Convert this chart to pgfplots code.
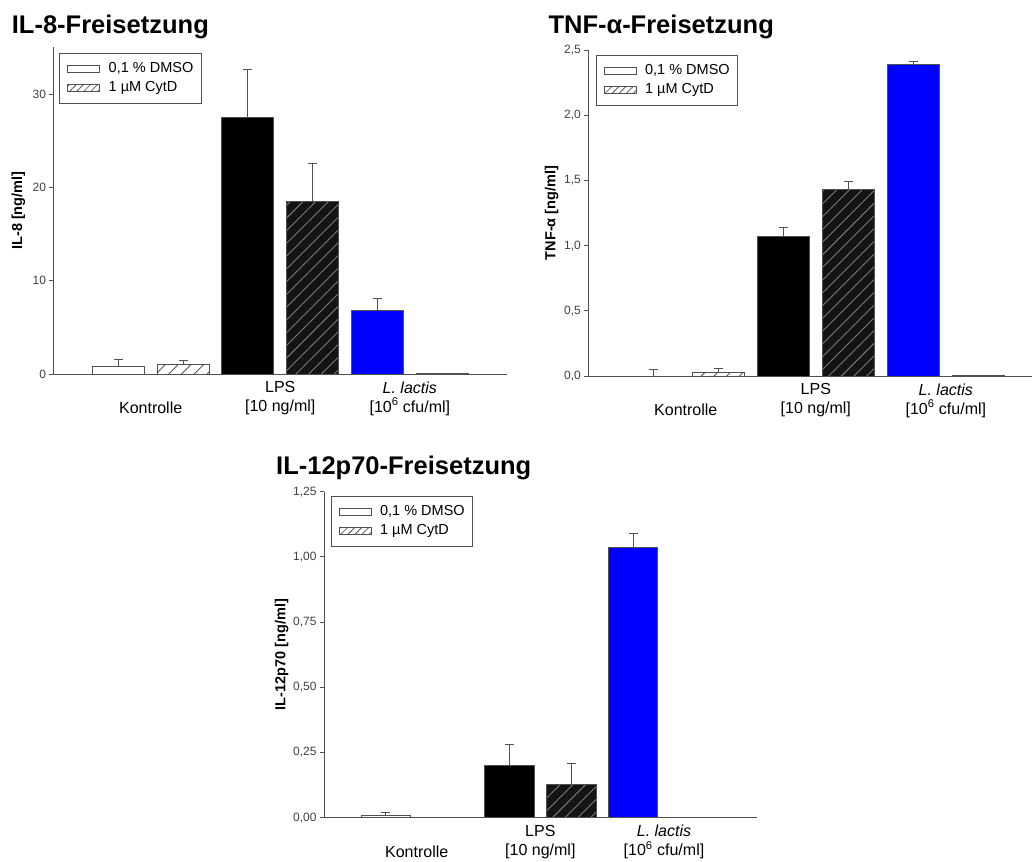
\documentclass[border=0pt]{standalone}
\usepackage{fontspec}
\setmainfont{Liberation Sans}
\usepackage{pgfplots}
\pgfplotsset{compat=1.18}
\usetikzlibrary{patterns.meta}

\definecolor{edge}{HTML}{505050}
\definecolor{hatch}{HTML}{7A7A7A}
\definecolor{barblue}{HTML}{0000FF}

\pgfplotsset{
  panel/.style={
    scale only axis, enlargelimits=false, ymin=0, xmin=-1,
    axis x line*=bottom, axis y line*=left,
    axis line style={edge, line width=0.9pt, -},
    tick align=outside, major tick length=4pt,
    ytick style={edge, line width=0.8pt},
    x tick style={draw=none},
    xtick={0.5,2.5,4.5},
    xticklabels={{\strut\\Kontrolle},{LPS\\{}[10 ng/ml]},{\textit{L. lactis}\\{}[10\textsuperscript{6} cfu/ml]}},
    xticklabel style={align=center, font=\fontsize{16}{19}\selectfont, text=black},
    yticklabel style={font=\fontsize{12}{14}\selectfont, text=black!75},
    /pgf/number format/assume math mode=true,
    /pgf/number format/use comma,
    ylabel style={anchor=center, font=\fontsize{14.5}{17}\selectfont\bfseries},
    legend cell align=left,
    legend style={anchor=north west, draw=edge, line width=0.8pt,
      font=\fontsize{14.5}{17}\selectfont, inner xsep=5pt, inner ysep=6pt,
      nodes={inner xsep=3pt, inner ysep=2pt, text height=11pt, text depth=4pt}},
    legend image code/.code={%
      \draw[##1] (0pt,-3.5pt) rectangle (32pt,3.5pt);
      \pgfpathmoveto{\pgfpoint{-3pt}{0pt}}\pgfpathlineto{\pgfpoint{38pt}{0pt}}\pgfusepath{}},
  },
  bar/.style={ybar, bar width=0.8, bar shift=0pt, draw=edge, line width=0.9pt, forget plot,
    error bars/y dir=plus, error bars/y explicit,
    error bars/error bar style={edge, line width=0.9pt},
    error bars/error mark options={rotate=90, edge, mark size=4.5pt, line width=0.9pt}},
  hatched/.style={postaction={pattern={Lines[angle=45,distance=9pt,line width=0.9pt]}, pattern color=hatch}},
  hatchedw/.style={pattern={Lines[angle=45,distance=9pt,line width=0.9pt]}, pattern color=black!65},
}

\begin{document}
\begin{tikzpicture}
\path[use as bounding box] (0pt,0pt) rectangle (1032pt,861pt);

% ---------------- IL-8 ----------------
\begin{axis}[panel, at={(53.5pt,487pt)}, anchor=south west,
  width=453.5pt, height=326.7pt, xmax=6, ymax=35,
  ytick={0,10,20,30},
  yticklabel style={/pgf/number format/fixed, /pgf/number format/precision=0},
  ylabel={IL-8 [ng/ml]},
  ylabel style={at={(axis description cs:-0.0776,0.5)}},
  legend style={at={(0.0128,0.9835)}}]
\addlegendimage{draw=edge, fill=white, line width=0.8pt}
\addlegendentry{0,1 \% DMSO}
\addlegendimage{draw=edge, line width=0.8pt, pattern={Lines[angle=45,distance=5pt,line width=0.8pt]}, pattern color=black!65}
\addlegendentry{1 µM CytD}
\addplot[bar, fill=white] coordinates {(0,0.86) +- (0,0.71)};
\addplot[bar, hatchedw] coordinates {(1,1.0) +- (0,0.4)};
\addplot[bar, fill=black] coordinates {(2,27.5) +- (0,5.1)};
\addplot[bar, fill=black!92, hatched] coordinates {(3,18.5) +- (0,4.1)};
\addplot[bar, fill=barblue] coordinates {(4,6.8) +- (0,1.3)};
\addplot[bar, fill=barblue, hatched] coordinates {(5,0.08) +- (0,0)};
\end{axis}

% ---------------- TNF-alpha ----------------
\begin{axis}[panel, at={(588.3pt,485pt)}, anchor=south west,
  width=443.7pt, height=326pt, xmax=5.826, ymax=2.5,
  ytick={0,0.5,1,1.5,2,2.5},
  yticklabel style={/pgf/number format/fixed, /pgf/number format/fixed zerofill, /pgf/number format/precision=1},
  ylabel={TNF-α [ng/ml]},
  ylabel style={at={(axis description cs:-0.0825,0.5)}},
  legend style={at={(0.0167,0.9847)}}]
\addlegendimage{draw=edge, fill=white, line width=0.8pt}
\addlegendentry{0,1 \% DMSO}
\addlegendimage{draw=edge, line width=0.8pt, pattern={Lines[angle=45,distance=5pt,line width=0.8pt]}, pattern color=black!65}
\addlegendentry{1 µM CytD}
\addplot[bar, fill=white] coordinates {(0,0) +- (0,0.051)};
\addplot[bar, hatchedw] coordinates {(1,0.025) +- (0,0.034)};
\addplot[bar, fill=black] coordinates {(2,1.068) +- (0,0.072)};
\addplot[bar, fill=black!92, hatched] coordinates {(3,1.43) +- (0,0.065)};
\addplot[bar, fill=barblue] coordinates {(4,2.39) +- (0,0.025)};
\addplot[bar, fill=barblue, hatched] coordinates {(5,0.003) +- (0,0)};
\end{axis}

% ---------------- IL-12p70 ----------------
\begin{axis}[panel, at={(324pt,43.3pt)}, anchor=south west,
  width=432.7pt, height=326pt, xmax=6, ymax=1.25,
  ytick={0,0.25,0.5,0.75,1,1.25},
  yticklabel style={/pgf/number format/fixed, /pgf/number format/fixed zerofill, /pgf/number format/precision=2},
  ylabel={IL-12p70 [ng/ml]},
  ylabel style={at={(axis description cs:-0.0978,0.5)}},
  legend style={at={(0.0155,0.9868)}}]
\addlegendimage{draw=edge, fill=white, line width=0.8pt}
\addlegendentry{0,1 \% DMSO}
\addlegendimage{draw=edge, line width=0.8pt, pattern={Lines[angle=45,distance=5pt,line width=0.8pt]}, pattern color=black!65}
\addlegendentry{1 µM CytD}
\addplot[bar, fill=white] coordinates {(0,0.008) +- (0,0.011)};
\addplot[bar, hatchedw] coordinates {(1,0) +- (0,0)};
\addplot[bar, fill=black] coordinates {(2,0.202) +- (0,0.079)};
\addplot[bar, fill=black!92, hatched] coordinates {(3,0.129) +- (0,0.079)};
\addplot[bar, fill=barblue] coordinates {(4,1.035) +- (0,0.055)};
\addplot[bar, fill=barblue, hatched] coordinates {(5,0) +- (0,0)};
\end{axis}

% ---------------- titles ----------------
\node[anchor=base west, inner sep=0pt, font=\fontsize{25.5}{30}\selectfont\bfseries] at (11.7pt,827.7pt) {IL-8-Freisetzung};
\node[anchor=base west, inner sep=0pt, font=\fontsize{25.5}{30}\selectfont\bfseries] at (548.3pt,827pt) {TNF-α-Freisetzung};
\node[anchor=base west, inner sep=0pt, font=\fontsize{25.5}{30}\selectfont\bfseries] at (276pt,386pt) {IL-12p70-Freisetzung};
\end{tikzpicture}
\end{document}
